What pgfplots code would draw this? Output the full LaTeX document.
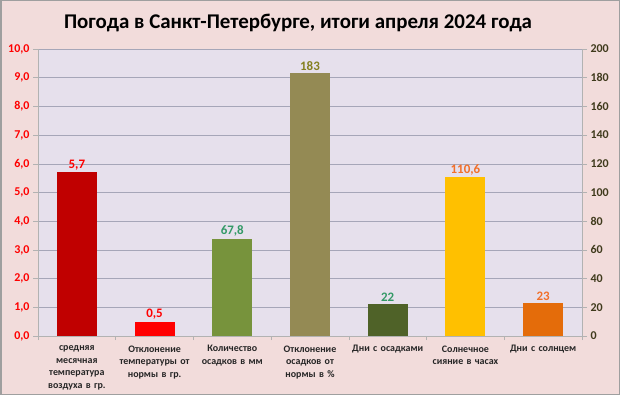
\documentclass[border=0pt]{standalone}
\usepackage{pgfplots}
\pgfplotsset{compat=1.18}
\usepackage{fontspec}
\setmainfont{Carlito}
\definecolor{bgout}{HTML}{F2DCDB}
\definecolor{bgplot}{HTML}{E6E0EC}
\definecolor{cA}{HTML}{C00000}
\definecolor{cB}{HTML}{FF0000}
\definecolor{cC}{HTML}{77933C}
\definecolor{cD}{HTML}{948A54}
\definecolor{cE}{HTML}{4F6228}
\definecolor{cF}{HTML}{FFC000}
\definecolor{cG}{HTML}{E46C0A}
\definecolor{lRed}{HTML}{FF0000}
\definecolor{lGreen}{HTML}{339966}
\definecolor{lOlive}{HTML}{858020}
\definecolor{lOrange}{HTML}{F2702A}
\definecolor{rTick}{HTML}{3F3A1C}
\definecolor{gridc}{HTML}{A6A6B8}
\begin{document}
\begin{tikzpicture}[x=1bp,y=1bp]
\fill[bgout] (0,0) rectangle (620,395);
\draw[gray!75,line width=1.5bp] (0.75,0.75) rectangle (619.25,394.25);
\node[font=\bfseries\fontsize{21}{24}\selectfont] at (298,372) {Погода в Санкт-Петербурге, итоги апреля 2024 года};
\begin{axis}[
  at={(38bp,59bp)}, anchor=south west, scale only axis,
  width=544bp, height=287bp,
  xmin=-0.5, xmax=6.5, ymin=0, ymax=10,
  axis y line*=left, axis x line*=bottom,
  axis line style={gray!60, line width=0.8bp},
  axis background/.style={fill=bgplot},
  ytick={0,1,...,10},
  yticklabels={{0,0},{1,0},{2,0},{3,0},{4,0},{5,0},{6,0},{7,0},{8,0},{9,0},{10,0}},
  ymajorgrids, grid style={gridc, line width=0.6bp},
  tick align=outside, major tick length=5bp,
  tick style={gray!60, line width=0.6bp},
  xtick={0,...,6}, major x tick style={draw=none},
  minor xtick={-0.5,0.5,...,6.5}, minor tick length=4bp,
  xticklabels={{средняя\\месячная\\температура\\воздуха в гр.},
    {Отклонение\\температуры от\\нормы в гр.},
    {Количество\\осадков в мм},
    {Отклонение\\осадков от\\нормы в \%},
    {Дни с осадками},
    {Солнечное\\сияние в часах},
    {Дни с солнцем}},
  xticklabel style={text width=86bp, align=center, anchor=north, yshift=-1bp,
    font=\bfseries\fontsize{10}{12.6}\selectfont, text=black!85},
  yticklabel style={text=lRed, font=\bfseries\fontsize{12}{12}\selectfont, xshift=0bp},
]
\addplot[ybar, bar width=40bp, bar shift=0pt, fill=cA, draw=none,
  point meta=explicit symbolic, nodes near coords,
  nodes near coords style={text=lRed, font=\bfseries\fontsize{13}{13}\selectfont, anchor=south, yshift=-1bp}]
  coordinates {(0,5.7) [5,7]};
\addplot[ybar, bar width=40bp, bar shift=0pt, fill=cB, draw=none,
  point meta=explicit symbolic, nodes near coords,
  nodes near coords style={text=lRed, font=\bfseries\fontsize{13}{13}\selectfont, anchor=south, yshift=-1bp}]
  coordinates {(1,0.5) [0,5]};
\end{axis}
\begin{axis}[
  at={(38bp,59bp)}, anchor=south west, scale only axis,
  width=544bp, height=287bp,
  xmin=-0.5, xmax=6.5, ymin=0, ymax=200,
  axis y line*=right, axis x line=none,
  axis line style={gray!60, line width=0.8bp},
  ytick={0,20,...,200},
  yticklabels={0,20,40,60,80,100,120,140,160,180,200},
  tick align=outside, major tick length=5bp,
  tick style={gray!60, line width=0.6bp},
  yticklabel style={text=rTick, font=\bfseries\fontsize{12}{12}\selectfont, xshift=0bp},
  nodes near coords style={font=\bfseries\fontsize{13}{13}\selectfont, anchor=south, yshift=-1bp},
]
\addplot[ybar, bar width=40bp, bar shift=0pt, fill=cC, draw=none,
  point meta=explicit symbolic, nodes near coords,
  nodes near coords style={text=lGreen}]
  coordinates {(2,67.8) [67,8]};
\addplot[ybar, bar width=40bp, bar shift=0pt, fill=cD, draw=none,
  point meta=explicit symbolic, nodes near coords,
  nodes near coords style={text=lOlive}]
  coordinates {(3,183) [183]};
\addplot[ybar, bar width=40bp, bar shift=0pt, fill=cE, draw=none,
  point meta=explicit symbolic, nodes near coords,
  nodes near coords style={text=lGreen}]
  coordinates {(4,22) [22]};
\addplot[ybar, bar width=40bp, bar shift=0pt, fill=cF, draw=none,
  point meta=explicit symbolic, nodes near coords,
  nodes near coords style={text=lOrange}]
  coordinates {(5,110.6) [110,6]};
\addplot[ybar, bar width=40bp, bar shift=0pt, fill=cG, draw=none,
  point meta=explicit symbolic, nodes near coords,
  nodes near coords style={text=lOrange}]
  coordinates {(6,23) [23]};
\end{axis}
\end{tikzpicture}
\end{document}
